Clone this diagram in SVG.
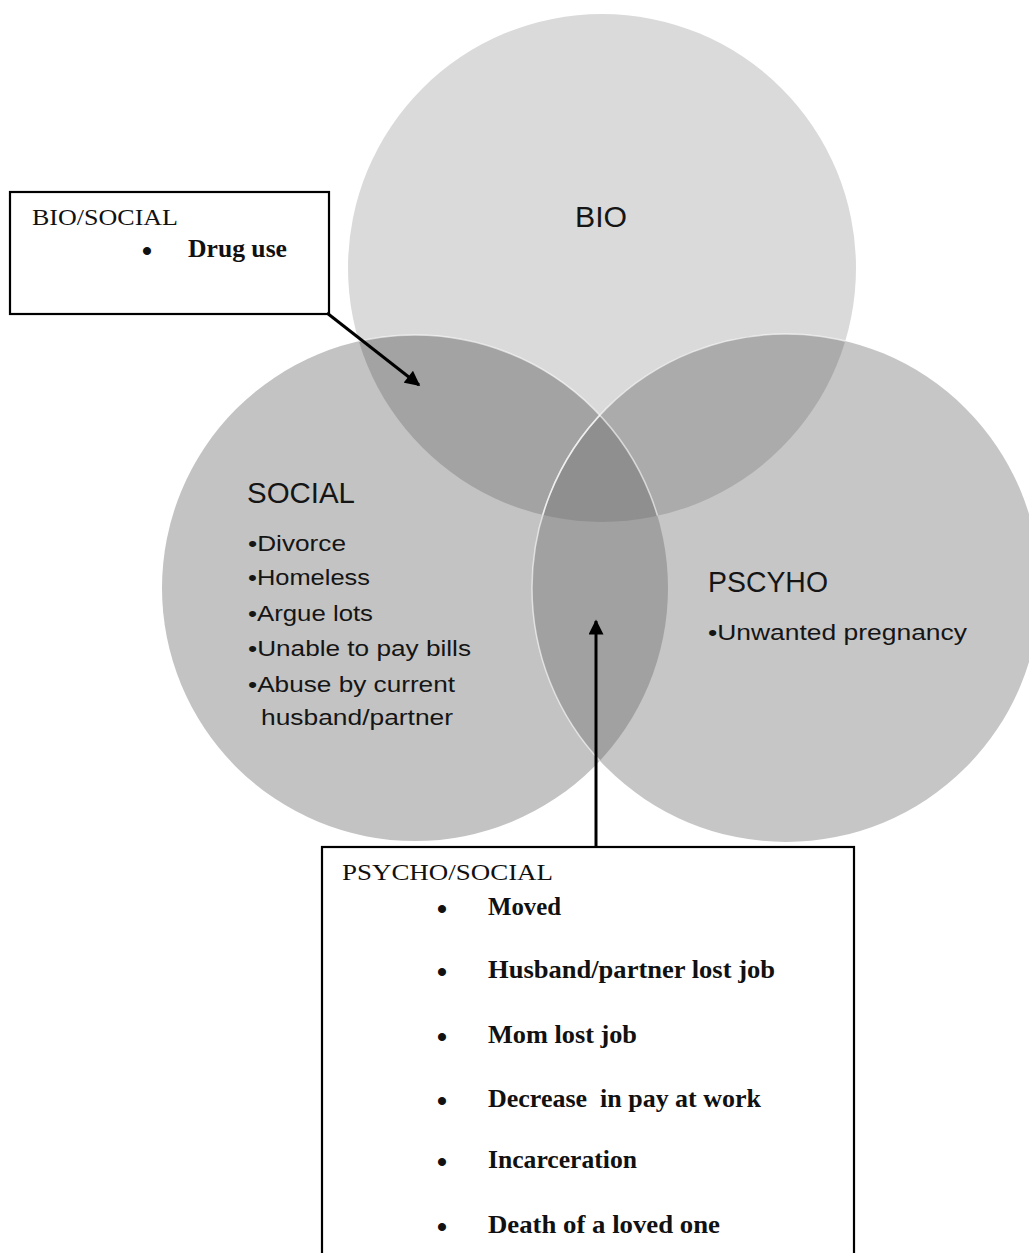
<svg xmlns="http://www.w3.org/2000/svg" width="1029" height="1253" viewBox="0 0 1029 1253">
<style>
.lbl{font-family:"Liberation Sans",Arial,sans-serif;fill:#151515}
.h{font-size:29px}
.it{font-size:22px}
.tm{font-family:"Liberation Serif","Times New Roman",serif;fill:#111}
.tt{font-size:24px}
.tb{font-size:25px;font-weight:bold}
.bul{font-family:"Liberation Serif","Times New Roman",serif;fill:#111;font-size:30px;font-weight:bold;text-anchor:middle}
.box{fill:#fff;stroke:#000;stroke-width:2.2}
.conn{stroke:#000;stroke-width:3;fill:none}
.edge{fill:none;stroke:#fff;stroke-width:1.5;stroke-opacity:0.6}
</style>
<defs>
<clipPath id="cBio"><circle cx="602" cy="268" r="254"/></clipPath>
<clipPath id="cSoc"><circle cx="415" cy="588" r="253"/></clipPath>
<marker id="ah" viewBox="0 0 10 10" refX="9" refY="5" markerWidth="5.5" markerHeight="5" orient="auto" markerUnits="strokeWidth">
<path d="M0,0 L10,5 L0,10 z" fill="#000"/>
</marker>
</defs>
<rect width="1029" height="1253" fill="#fff"/>
<g id="venn">
<g id="bio">
<circle cx="602" cy="268" r="254" fill="#dadada"/>
</g>
<g id="social">
<circle cx="415" cy="588" r="253" fill="#c3c3c3"/>
</g>
<g id="psycho">
<circle cx="786" cy="588" r="254" fill="#c6c6c6"/>
</g>
<g id="bio-social">
<circle cx="415" cy="588" r="253" fill="#a3a3a3" clip-path="url(#cBio)"/>
</g>
<g id="bio-psycho">
<circle cx="786" cy="588" r="254" fill="#ababab" clip-path="url(#cBio)"/>
</g>
<g id="psycho-social">
<circle cx="786" cy="588" r="254" fill="#a1a1a1" clip-path="url(#cSoc)"/>
</g>
<g id="triple" clip-path="url(#cBio)">
<circle cx="786" cy="588" r="254" fill="#8f8f8f" clip-path="url(#cSoc)"/>
</g>
<g clip-path="url(#cBio)"><circle class="edge" cx="415" cy="588" r="253"/><circle class="edge" cx="786" cy="588" r="254"/></g>
<g clip-path="url(#cSoc)"><circle class="edge" cx="786" cy="588" r="254"/></g>
<text class="lbl h" x="575" y="227" textLength="52" lengthAdjust="spacingAndGlyphs">BIO</text>
<text class="lbl h" x="247" y="503" textLength="108" lengthAdjust="spacingAndGlyphs">SOCIAL</text>
<text class="lbl it" x="248" y="551" textLength="98" lengthAdjust="spacingAndGlyphs">•Divorce</text>
<text class="lbl it" x="248" y="585" textLength="122" lengthAdjust="spacingAndGlyphs">•Homeless</text>
<text class="lbl it" x="248" y="621" textLength="125" lengthAdjust="spacingAndGlyphs">•Argue lots</text>
<text class="lbl it" x="248" y="656" textLength="223" lengthAdjust="spacingAndGlyphs">•Unable to pay bills</text>
<text class="lbl it" x="248" y="692" textLength="207" lengthAdjust="spacingAndGlyphs">•Abuse by current</text>
<text class="lbl it" x="261" y="725" textLength="192" lengthAdjust="spacingAndGlyphs">husband/partner</text>
<text class="lbl h" x="708" y="592" textLength="120" lengthAdjust="spacingAndGlyphs">PSCYHO</text>
<text class="lbl it" x="708" y="640" textLength="259" lengthAdjust="spacingAndGlyphs">•Unwanted pregnancy</text>
</g>
<g id="box-bio-social">
<rect class="box" x="10" y="192" width="319" height="122"/>
<text class="tm tt" x="32" y="225" textLength="146" lengthAdjust="spacingAndGlyphs">BIO/SOCIAL</text>
<text class="bul" x="147" y="261">•</text>
<text class="tm tb" x="188" y="257" textLength="99" lengthAdjust="spacingAndGlyphs">Drug use</text>
</g>
<g id="box-psycho-social">
<rect class="box" x="322" y="847" width="532" height="420"/>
<text class="tm tt" x="342" y="880" textLength="211" lengthAdjust="spacingAndGlyphs">PSYCHO/SOCIAL</text>
<g class="bul">
<text x="442" y="919">•</text>
<text x="442" y="982">•</text>
<text x="442" y="1047">•</text>
<text x="442" y="1111">•</text>
<text x="442" y="1172">•</text>
<text x="442" y="1237">•</text>
</g>
<text class="tm tb" x="488" y="915" textLength="73" lengthAdjust="spacingAndGlyphs">Moved</text>
<text class="tm tb" x="488" y="978" textLength="287" lengthAdjust="spacingAndGlyphs">Husband/partner lost job</text>
<text class="tm tb" x="488" y="1043" textLength="149" lengthAdjust="spacingAndGlyphs">Mom lost job</text>
<text class="tm tb" x="488" y="1107" textLength="273" lengthAdjust="spacingAndGlyphs" xml:space="preserve">Decrease  in pay at work</text>
<text class="tm tb" x="488" y="1168" textLength="149" lengthAdjust="spacingAndGlyphs">Incarceration</text>
<text class="tm tb" x="488" y="1233" textLength="232" lengthAdjust="spacingAndGlyphs">Death of a loved one</text>
</g>
<g id="connectors">
<line class="conn" x1="327" y1="313" x2="419" y2="385" marker-end="url(#ah)"/>
<line class="conn" x1="596" y1="847" x2="596" y2="621" marker-end="url(#ah)"/>
</g>
</svg>
